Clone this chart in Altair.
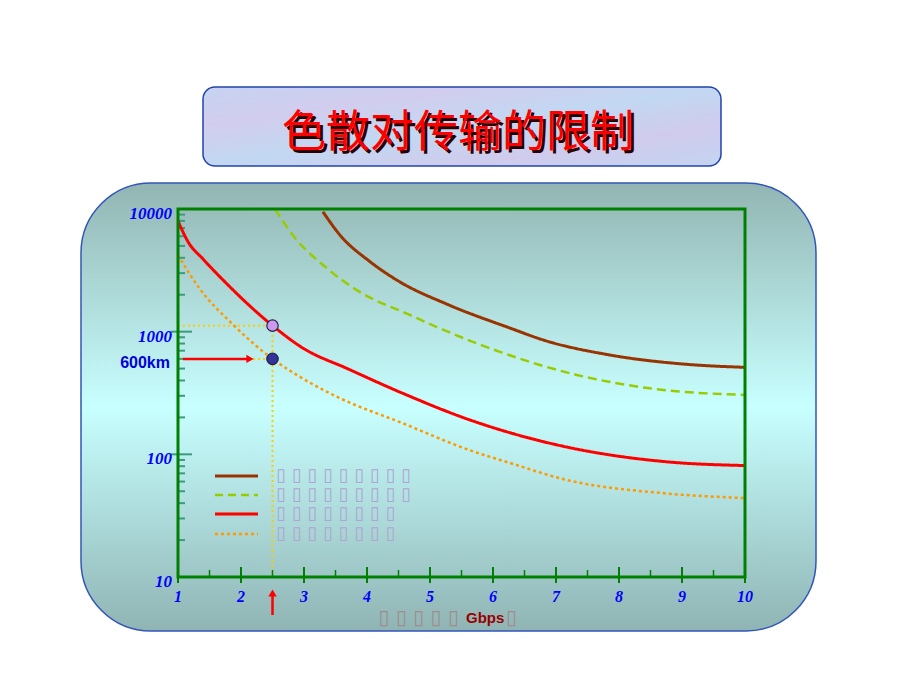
import altair as alt
import pandas as pd

# ---------------- data ----------------
brown_x = [3.3, 3.57, 4.05, 4.47, 5.3, 6.27, 6.8, 7.85, 9.07, 10]
brown_y = [9500, 6140, 3715, 2640, 1650, 1070, 855, 646, 542, 512]

green_x = [2.54, 2.82, 3.36, 3.89, 4.68, 5.11, 6.11, 7.33, 8.49, 10]
green_y = [10000, 6140, 3300, 2100, 1370, 1090, 684, 444, 345, 305]

red_x = [1.0, 1.16, 1.40, 1.85, 2.04, 2.5, 2.99, 3.68, 4.57, 5.63, 6.27, 7.16, 8.75, 10]
red_y = [8000, 5400, 3900, 2250, 1810, 1120, 731, 502, 314, 191, 150, 115, 87, 81]

orange_x = [1.0, 1.32, 1.88, 2.5, 2.93, 3.52, 4.57, 5.63, 6.27, 7.16, 8.75, 10]
orange_y = [4220, 2330, 1133, 600, 430, 295, 179, 108, 85, 62, 48, 44]

point_x = [2.5, 2.5]
point_y = [1120, 600]
point_colors = ["#cc99ee", "#333399"]

x_ticks = [1, 2, 3, 4, 5, 6, 7, 8, 9, 10]
x_tick_labels = ["1", "2", "3", "4", "5", "6", "7", "8", "9", "10"]
x_minor = [1.5, 2.5, 3.5, 4.5, 5.5, 6.5, 7.5, 8.5, 9.5]
y_labels = [10, 100, 1000, 10000]
y_label_text = ["10", "100", "1000", "10000"]
y_major = [100, 1000]
y_minor = [20, 30, 40, 50, 60, 70, 80, 90,
           200, 300, 400, 500, 600, 700, 800, 900,
           2000, 3000, 4000, 5000, 6000, 7000, 8000, 9000]

title_text = "色散对传输的限制"
legend_rows = ["▯ ▯ ▯ ▯ ▯ ▯ ▯ ▯ ▯", "▯ ▯ ▯ ▯ ▯ ▯ ▯ ▯ ▯", "▯ ▯ ▯ ▯ ▯ ▯ ▯ ▯", "▯ ▯ ▯ ▯ ▯ ▯ ▯ ▯"]
legend_colors = ["#993300", "#99cc00", "#ff0000", "#ff9900"]
legend_dash = [[1, 0], [8, 5], [1, 0], [3, 3]]
km_label = "600km"
xtitle_boxes = "▯ ▯ ▯ ▯ ▯"
xtitle_unit = "Gbps"
xtitle_end = "▯"

# ---------------- layout ----------------
W, H = 567, 368
PAD_L, PAD_T = 170, 201

one = pd.DataFrame({"k": [0]})
xs = alt.Scale(domain=[1, 10], nice=False, zero=False)
ys = alt.Scale(type="log", domain=[10, 10000], nice=False)

# background rounded panel
bg = alt.Chart(one).mark_rect(
    cornerRadius=70,
    stroke="#3355bb", strokeWidth=1.5,
    fill=alt.Gradient(gradient="linear", x1=0, x2=0, y1=0, y2=1,
                      stops=[alt.GradientStop(color="#92b5b2", offset=0),
                             alt.GradientStop(color="#c8ffff", offset=0.5),
                             alt.GradientStop(color="#90b4b4", offset=1)]),
).encode(x=alt.value(-97), x2=alt.value(638), y=alt.value(-26), y2=alt.value(422))

# title box
tbox = alt.Chart(one).mark_rect(
    cornerRadius=12, stroke="#2244aa", strokeWidth=1.5,
    fill=alt.Gradient(gradient="linear", x1=0, x2=1, y1=0, y2=1,
                      stops=[alt.GradientStop(color="#c6d3f2", offset=0),
                             alt.GradientStop(color="#d2cdee", offset=0.25),
                             alt.GradientStop(color="#c2d8f2", offset=0.5),
                             alt.GradientStop(color="#d0cbec", offset=0.75),
                             alt.GradientStop(color="#c4d4f2", offset=1)]),
).encode(x=alt.value(25), x2=alt.value(543), y=alt.value(-122), y2=alt.value(-43))

title_df = pd.DataFrame({"t": [title_text]})
tshadow = alt.Chart(title_df).mark_text(
    font="Noto Sans CJK SC", fontWeight="normal", fontSize=44, color="#2a0000",
    align="center", baseline="middle",
).encode(x=alt.value(283), y=alt.value(-72), text="t:N")
ttext = alt.Chart(title_df).mark_text(
    font="Noto Sans CJK SC", fontWeight="normal", fontSize=44, color="#ff0000",
    align="center", baseline="middle",
).encode(x=alt.value(280), y=alt.value(-75), text="t:N")

# tick labels drawn through the scales
xl_df = pd.DataFrame({"x": x_ticks, "t": x_tick_labels})
xlab = alt.Chart(xl_df).mark_text(
    font="Liberation Serif", fontStyle="italic", fontWeight="bold", fontSize=16,
    color="#0000ff", align="center", baseline="middle").encode(
    x=alt.X("x:Q", scale=xs, axis=None), y=alt.value(H + 20), text="t:N")
yl_df = pd.DataFrame({"y": y_labels, "t": y_label_text})
ylab = alt.Chart(yl_df).mark_text(
    font="Liberation Serif", fontStyle="italic", fontWeight="bold", fontSize=17,
    color="#0000ff", align="right", baseline="middle", dy=5).encode(
    y=alt.Y("y:Q", scale=ys, axis=None), x=alt.value(-6), text="t:N")

# ticks
ymin_df = pd.DataFrame({"y": y_minor})
ymin = alt.Chart(ymin_df).mark_rule(color="#3d9a7a", strokeWidth=2).encode(
    y=alt.Y("y:Q", scale=ys, axis=None), x=alt.value(0), x2=alt.value(7))
ymaj_df = pd.DataFrame({"y": y_major})
ymaj = alt.Chart(ymaj_df).mark_rule(color="#3d9a7a", strokeWidth=2).encode(
    y=alt.Y("y:Q", scale=ys, axis=None), x=alt.value(-7), x2=alt.value(14))
xmaj_df = pd.DataFrame({"x": x_ticks})
xmaj = alt.Chart(xmaj_df).mark_rule(color="#008000", strokeWidth=2).encode(
    x=alt.X("x:Q", scale=xs, axis=None), y=alt.value(H - 10), y2=alt.value(H + 6))
xmin_df = pd.DataFrame({"x": x_minor})
xmin = alt.Chart(xmin_df).mark_rule(color="#008000", strokeWidth=1.5).encode(
    x=alt.X("x:Q", scale=xs, axis=None), y=alt.value(H - 7), y2=alt.value(H))

# guides (yellow dotted)
guide_h_df = pd.DataFrame({"x": [1, 1], "x2": [point_x[0], point_x[1]], "y": point_y})
guide_h = alt.Chart(guide_h_df).mark_rule(color="#ffcc00", strokeWidth=2, strokeDash=[2, 3]).encode(
    x=alt.X("x:Q", scale=xs, axis=None), x2="x2:Q", y=alt.Y("y:Q", scale=ys, axis=None))
guide_v_df = pd.DataFrame({"x": [point_x[0]], "y": [10], "y2": [point_y[0]]})
guide_v = alt.Chart(guide_v_df).mark_rule(color="#ffcc00", strokeWidth=2, strokeDash=[2, 3]).encode(
    x=alt.X("x:Q", scale=xs, axis=None), y=alt.Y("y:Q", scale=ys, axis=None), y2="y2:Q")

def curve(xv, yv, color, dash, width=3):
    df = pd.DataFrame({"x": xv, "y": yv, "o": list(range(len(xv)))})
    return alt.Chart(df).mark_line(color=color, strokeWidth=width, strokeDash=dash,
                                   interpolate="monotone", clip=True).encode(
        x=alt.X("x:Q", scale=xs, axis=None), y=alt.Y("y:Q", scale=ys, axis=None), order="o:Q")

c_brown = curve(brown_x, brown_y, "#993300", [1, 0])
c_green = curve(green_x, green_y, "#99cc00", [9, 5], 2.5)
c_red = curve(red_x, red_y, "#ff0000", [1, 0])
c_orange = curve(orange_x, orange_y, "#ff9900", [3, 3], 2.5)

pts_df = pd.DataFrame({"x": point_x, "y": point_y, "c": point_colors})
pts = alt.Chart(pts_df).mark_point(filled=True, size=130, stroke="#222244", strokeWidth=1.2, opacity=1).encode(
    x=alt.X("x:Q", scale=xs, axis=None), y=alt.Y("y:Q", scale=ys, axis=None),
    fill=alt.Color("c:N", scale=None))

# red arrows
arr_v = alt.Chart(one).mark_rule(color="#ff0000", strokeWidth=2.5).encode(
    x=alt.datum(2.5, scale=xs), y=alt.value(406), y2=alt.value(385))
arr_v_head = alt.Chart(one).mark_point(shape="triangle-up", filled=True, color="#ff0000", size=70, opacity=1).encode(
    x=alt.datum(2.5, scale=xs), y=alt.value(384))
arr_h = alt.Chart(one).mark_rule(color="#ff0000", strokeWidth=2.5).encode(
    y=alt.datum(600, scale=ys), x=alt.value(5), x2=alt.value(70))
arr_h_head = alt.Chart(one).mark_point(shape="triangle-right", filled=True, color="#ff0000", size=70, opacity=1).encode(
    y=alt.datum(600, scale=ys), x=alt.value(72))

km = alt.Chart(pd.DataFrame({"t": [km_label]})).mark_text(
    font="Liberation Sans", fontWeight="bold", fontSize=16, color="#0000dd",
    align="right", baseline="middle").encode(x=alt.value(-8), y=alt.value(154), text="t:N")

# legend
leg_y = [267, 286, 305, 325]
leg_layers = []
for i in range(4):
    leg_layers.append(alt.Chart(one).mark_rule(color=legend_colors[i], strokeWidth=3 if i in (0, 2) else 2.5,
                                               strokeDash=legend_dash[i]).encode(
        x=alt.value(37), x2=alt.value(80), y=alt.value(leg_y[i])))
leg_text_df = pd.DataFrame({"t": legend_rows, "yy": leg_y})
leg_text = alt.Chart(leg_text_df).mark_text(
    font="DejaVu Sans", fontSize=18, color="#b0a4d2", align="left", baseline="middle").encode(
    x=alt.value(98), y=alt.Y("yy:Q", scale=None), text="t:N")

xt1 = alt.Chart(pd.DataFrame({"t": [xtitle_boxes]})).mark_text(
    font="DejaVu Sans", fontSize=20, color="#a08c8c", align="right", baseline="middle").encode(
    x=alt.value(281), y=alt.value(409), text="t:N")
xt2 = alt.Chart(pd.DataFrame({"t": [xtitle_unit]})).mark_text(
    font="Liberation Sans", fontWeight="bold", fontSize=15, color="#990000", align="left",
    baseline="middle").encode(x=alt.value(288), y=alt.value(409), text="t:N")
xt3 = alt.Chart(pd.DataFrame({"t": [xtitle_end]})).mark_text(
    font="DejaVu Sans", fontSize=20, color="#a08c8c", align="left", baseline="middle").encode(
    x=alt.value(328), y=alt.value(409), text="t:N")

frame = alt.Chart(one).mark_rect(fill=None, fillOpacity=0, stroke="#008000", strokeWidth=3).encode(
    x=alt.value(0), x2=alt.value(W), y=alt.value(0), y2=alt.value(H))

chart = alt.layer(
    bg, tbox, tshadow, ttext,
    guide_h, guide_v,
    ymin, ymaj,
    c_brown, c_green, c_red, c_orange,
    frame, xmaj, xmin, xlab, ylab,
    pts, arr_v, arr_v_head, arr_h, arr_h_head, km,
    *leg_layers, leg_text, xt1, xt2, xt3,
).properties(
    width=W, height=H,
    autosize=alt.AutoSizeParams(type="none"),
    padding={"left": PAD_L, "top": PAD_T, "right": 884 - PAD_L - W, "bottom": 655 - PAD_T - H},
    background="#ffffff",
).configure_view(stroke=None)

chart.save("out.html", embed_options={"renderer": "svg", "actions": False})
